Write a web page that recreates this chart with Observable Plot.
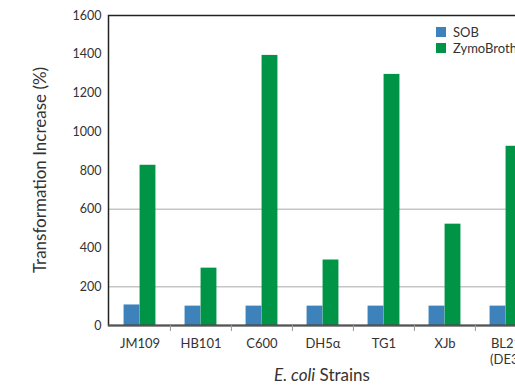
<!DOCTYPE html>
<html>
<head>
<meta charset="utf-8">
<script src="https://cdn.jsdelivr.net/npm/d3@7"></script>
<script src="https://cdn.jsdelivr.net/npm/@observablehq/plot@0.6"></script>
<style>
  html, body { margin: 0; padding: 0; background: #fff; overflow: hidden; width: 515px; height: 387px; }
  #wrap { position: relative; width: 515px; height: 387px; overflow: hidden; font-family: Lato, "Open Sans", sans-serif; }
  #wrap svg { max-width: none !important; display: block; }
  #legend { position: absolute; left: 436px; top: 24px; font-size: 13px; color: #333; white-space: nowrap; }
  #legend .row { display: flex; align-items: center; height: 16px; }
  #legend .sw { width: 10px; height: 10px; margin-right: 7px; }
</style>
</head>
<body>
<div id="wrap"></div>
<script>
const strains = ["JM109", "HB101", "C600", "DH5α", "TG1", "XJb", "BL21\n(DE3)"];
const series = ["SOB", "ZymoBroth"];
const sobValues = [106, 100, 100, 100, 100, 100, 100];
const zymoValues = [827, 296, 1394, 338, 1296, 523, 925];
const colors = ["#3d82bb", "#009447"];
const yTicks = [0, 200, 400, 600, 800, 1000, 1200, 1400, 1600];
const gridValues = [200, 600];
const yTitle = "Transformation Increase (%)";
const xTitleItalic = "E. coli";
const xTitleRest = " Strains";

const W = 560, H = 387, mL = 108, mR = 24, mT = 15, mB = 62;
const step = (W - mL - mR) / strains.length;
const barW = 16;
const half = step / 2;

const sob = strains.map((s, i) => ({strain: s, series: series[0], value: sobValues[i]}));
const zymo = strains.map((s, i) => ({strain: s, series: series[1], value: zymoValues[i]}));

const chart = Plot.plot({
  width: W, height: H,
  marginLeft: mL, marginRight: mR, marginTop: mT, marginBottom: mB,
  style: {fontFamily: "Lato, 'Open Sans', sans-serif", fontSize: "12.5px", color: "#333", background: "#fff", maxWidth: "none"},
  x: {domain: strains, padding: 0, axis: null},
  y: {domain: [0, 1600], ticks: yTicks, tickFormat: d => String(d), tickSize: 0, tickPadding: 7, label: null},
  color: {domain: series, range: colors},
  marks: [
    Plot.ruleY(gridValues, {stroke: "#c6c6c6", strokeWidth: 1.5}),
    Plot.barY(sob, {x: "strain", y: "value", fill: colors[0], insetLeft: half - barW, insetRight: half}),
    Plot.barY(zymo, {x: "strain", y: "value", fill: colors[1], insetLeft: half, insetRight: half - barW}),
    Plot.frame({stroke: "#222", strokeWidth: 1.5}),
    Plot.ruleY([0], {stroke: "#555", strokeWidth: 2}),
    Plot.ruleX(strains.slice(1), {x: d => d, y1: 0, y2: 0, insetBottom: -6, dx: -half, stroke: "#999", strokeWidth: 1}),
    Plot.text(strains, {x: d => d, frameAnchor: "bottom", lineAnchor: "top", dy: 10, lineHeight: 1.3, fontSize: 13, fill: "#333"})
  ]
});

const wrap = document.getElementById("wrap");
wrap.appendChild(chart);

const svg = d3.select(chart);
svg.append("text")
  .attr("transform", `translate(42,${(mT + H - mB) / 2}) rotate(-90)`)
  .attr("text-anchor", "middle").attr("dominant-baseline", "middle")
  .attr("font-size", 17).attr("fill", "#333")
  .text(yTitle);
const xt = svg.append("text")
  .attr("x", mL + (W - mL - mR) / 2).attr("y", 377)
  .attr("text-anchor", "middle").attr("dominant-baseline", "middle")
  .attr("font-size", 17).attr("fill", "#333");
xt.append("tspan").attr("font-style", "italic").text(xTitleItalic);
xt.append("tspan").text(xTitleRest);

const legend = document.createElement("div");
legend.id = "legend";
series.forEach((s, i) => {
  const row = document.createElement("div");
  row.className = "row";
  const sw = document.createElement("div");
  sw.className = "sw";
  sw.style.background = colors[i];
  row.appendChild(sw);
  row.appendChild(document.createTextNode(s));
  legend.appendChild(row);
});
wrap.appendChild(legend);
</script>
</body>
</html>
